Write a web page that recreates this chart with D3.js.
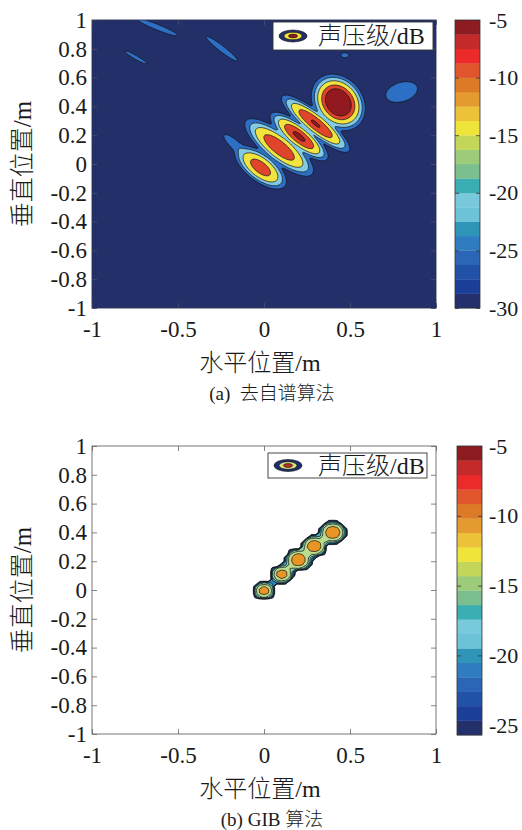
<!DOCTYPE html>
<html lang="zh">
<head>
<meta charset="utf-8">
<script src="https://cdn.jsdelivr.net/npm/d3@7/dist/d3.min.js"></script>
<style>
  html,body{margin:0;padding:0;background:#fff;}
  svg text{font-family:"Liberation Serif","Times New Roman","Noto Sans CJK SC",serif;fill:#1a1a1a;}
</style>
</head>
<body>
<svg id="fig" width="522" height="830" xmlns="http://www.w3.org/2000/svg"></svg>
<script>
// ---- axis ticks ----
const xTicks = [-1, -0.5, 0, 0.5, 1];
const yTicks = [-1, -0.8, -0.6, -0.4, -0.2, 0, 0.2, 0.4, 0.6, 0.8, 1];
const cbTicksA = [-30, -25, -20, -15, -10, -5];
const cbTicksB = [-25, -20, -15, -10, -5];
const cbRangeA = [-30, -5];
const cbRangeB = [-25.7, -5];

// ---- (a) map: main source lobes (position m, peak dB, semi-axes m, tilt deg) ----
const srcX = [-0.02, 0.088, 0.204, 0.30, 0.432];
const srcY = [-0.024, 0.115, 0.191, 0.28, 0.428];
const srcLevel = [-8.3, -7.5, -6.4, -6.65, -3.0];
const srcMajor = [0.082, 0.112, 0.093, 0.112, 0.078];
const srcMinor = [0.038, 0.038, 0.030, 0.029, 0.057];
const srcAngle = [-45, -45, -45, -45, 112];

// ---- (a) map: weak sidelobes ----
const sideX = [-0.17, -0.62, -0.245, -0.745, 0.80, 0.47];
const sideY = [0.135, 0.95, 0.80, 0.74, 0.50, 0.755];
const sideLevel = [-22.5, -23.5, -23.5, -24.3, -22.5, -24.0];
const sideMajor = [0.070, 0.115, 0.108, 0.080, 0.075, 0.022];
const sideMinor = [0.021, 0.016, 0.016, 0.012, 0.050, 0.016];
const sideAngle = [-48, -26, -43, -35, 25, 0];

const lobeSharpness = 1.25;   // >1 gives flatter tops and steeper flanks
const floorA = -30;
const levelsA = [-25, -20, -15, -10, -6.8];
const fillsA = ["#2c6fc4", "#82c9e4", "#f1e43f", "#e0452b", "#92191f"];
const backgroundA = "#232f68";

// ---- (b) GIB map: reconstructed sources and weak bridging terms ----
const gibX = [0.0, 0.105, 0.2, 0.292, 0.4, 0.052, 0.152, 0.35];
const gibY = [-0.005, 0.11, 0.21, 0.305, 0.4, 0.052, 0.16, 0.352];
const gibLevel = [-10.8, -10.7, -10.2, -10.2, -10.0, -22.0, -20.5, -21.0];
const gibWidth = [0.048, 0.050, 0.058, 0.056, 0.058, 0.028, 0.03, 0.028];
const gibCut = -23;     // GIB output is empty below this level
const gibEmpty = -35;
const levelsB = [-25.5, -23.5, -21.5, -19.5, -17.5, -15, -12];
const fillsB = ["#1d2d6c", "#2350a6", "#2c86c4", "#46b3c2", "#93d0a6", "#bcdc8e", "#e99526"];

// ---- colour bar bands, bottom to top ----
const bandColors = ["#23306b", "#1b3f99", "#2152a8", "#2a66b5", "#2f7dc0",
                    "#2f95b8", "#6cc3d8", "#79c9dc", "#3aaeb3", "#7cbf8e",
                    "#9ccb7a", "#c4d65a", "#efe53a", "#ecc23a", "#e49a2e",
                    "#dd7a28", "#e0552b", "#ec2a2a", "#c42a2a", "#8e1b1f"];

const svg = d3.select("#fig");
const fmt = d => String(d);

// lobe field in dB on a regular grid
function lobeGrid(n, h, lobes, floorDb) {
  const vals = new Float64Array(n * n);
  const base = Math.pow(10, floorDb / 10);
  const pre = lobes.map(l => ({
    x: l.x, y: l.y, p: Math.pow(10, l.level / 10),
    c: Math.cos(l.angle * Math.PI / 180), s: Math.sin(l.angle * Math.PI / 180),
    a2: l.major * l.major, b2: l.minor * l.minor
  }));
  for (let j = 0; j < n; j++) {
    const y = 1 - j * h;
    for (let i = 0; i < n; i++) {
      const x = -1 + i * h;
      let p = base;
      for (const l of pre) {
        const dx = x - l.x, dy = y - l.y;
        const u = dx * l.c + dy * l.s, v = -dx * l.s + dy * l.c;
        const q = u * u / l.a2 + v * v / l.b2;
        if (q < 60) p += l.p * Math.exp(-0.5 * Math.pow(q, lobeSharpness));
      }
      vals[j * n + i] = 10 * Math.log10(p);
    }
  }
  return vals;
}

// compact-support field for the GIB output
function gibGrid(n, h) {
  const vals = new Float64Array(n * n);
  for (let j = 0; j < n; j++) {
    const y = 1 - j * h;
    for (let i = 0; i < n; i++) {
      const x = -1 + i * h;
      let p = 0;
      for (let k = 0; k < gibX.length; k++) {
        const r = Math.hypot(x - gibX[k], y - gibY[k]) / gibWidth[k];
        p += Math.pow(10, gibLevel[k] / 10) * Math.exp(-Math.pow(r, 3));
      }
      let v = p > 0 ? 10 * Math.log10(p) : gibEmpty;
      if (v < gibCut) v = gibEmpty;
      vals[j * n + i] = v;
    }
  }
  return vals;
}

function gridPath(h, xs, ys) {
  return d3.geoPath(d3.geoTransform({
    point(px, py) { this.stream.point(xs(-1 + (px - 0.5) * h), ys(1 - (py - 0.5) * h)); }
  }));
}

function drawPanel(cfg) {
  const g = svg.append("g");
  const xs = d3.scaleLinear().domain([-1, 1]).range([cfg.left, cfg.right]);
  const ys = d3.scaleLinear().domain([-1, 1]).range([cfg.bottom, cfg.top]);
  const clipId = "clip-" + cfg.key;
  svg.append("clipPath").attr("id", clipId).append("rect")
    .attr("x", cfg.left).attr("y", cfg.top)
    .attr("width", cfg.right - cfg.left).attr("height", cfg.bottom - cfg.top);

  const plot = g.append("g").attr("clip-path", `url(#${clipId})`);
  plot.append("rect").attr("x", cfg.left).attr("y", cfg.top)
    .attr("width", cfg.right - cfg.left).attr("height", cfg.bottom - cfg.top)
    .attr("fill", cfg.background);

  const fill = d3.scaleThreshold().domain(cfg.levels.slice(1)).range(cfg.fills);
  const contours = d3.contours().size([cfg.n, cfg.n]).thresholds(cfg.levels)(cfg.values);
  const path = gridPath(cfg.h, xs, ys);
  plot.selectAll("path.c").data(contours).join("path")
    .attr("class", "c")
    .attr("d", path)
    .attr("fill", d => fill(d.value))
    .attr("stroke", "#111")
    .attr("stroke-width", 0.7)
    .attr("stroke-linejoin", "round");

  // frame and inward ticks on all four sides
  const tickCol = cfg.tickColor;
  const axB = g.append("g").attr("transform", `translate(0,${cfg.bottom})`)
    .call(d3.axisBottom(xs).tickValues(xTicks).tickFormat(fmt).tickSizeInner(-5).tickSizeOuter(0).tickPadding(13));
  const axT = g.append("g").attr("transform", `translate(0,${cfg.top})`)
    .call(d3.axisTop(xs).tickValues(xTicks).tickFormat("").tickSizeInner(-5).tickSizeOuter(0));
  const axL = g.append("g").attr("transform", `translate(${cfg.left},0)`)
    .call(d3.axisLeft(ys).tickValues(yTicks).tickFormat(fmt).tickSizeInner(-5).tickSizeOuter(0).tickPadding(5));
  const axR = g.append("g").attr("transform", `translate(${cfg.right},0)`)
    .call(d3.axisRight(ys).tickValues(yTicks).tickFormat("").tickSizeInner(-5).tickSizeOuter(0));
  [axB, axT, axL, axR].forEach(a => {
    a.select(".domain").remove();
    a.selectAll("line").attr("stroke", tickCol).attr("stroke-width", 0.8);
    a.selectAll("text").attr("font-size", 23).attr("fill", "#1a1a1a")
      .attr("font-family", "'Liberation Serif', serif");
  });
  g.append("rect").attr("x", cfg.left).attr("y", cfg.top)
    .attr("width", cfg.right - cfg.left).attr("height", cfg.bottom - cfg.top)
    .attr("fill", "none").attr("stroke", cfg.frameColor).attr("stroke-width", 0.9);

  // axis titles and caption
  g.append("text").attr("x", (cfg.left + cfg.right) / 2 - 4).attr("y", cfg.bottom + 63)
    .attr("text-anchor", "middle").attr("font-size", 24).style("font-weight", 300)
    .text("水平位置/m");
  g.append("text")
    .attr("transform", `translate(31,${(cfg.top + cfg.bottom) / 2}) rotate(-90)`)
    .attr("text-anchor", "middle").attr("font-size", 25).style("font-weight", 300)
    .text("垂直位置/m");
  g.append("text").attr("x", 272).attr("y", cfg.bottom + 92)
    .attr("text-anchor", "middle").attr("font-size", 19).style("font-weight", 300)
    .attr("xml:space", "preserve")
    .text(cfg.caption);

  // legend
  const lg = cfg.legend;
  g.append("rect").attr("x", lg.x).attr("y", lg.y).attr("width", lg.w).attr("height", lg.h)
    .attr("fill", "#fff").attr("stroke", "#333").attr("stroke-width", 0.9);
  const cx = lg.x + 20, cy = lg.y + lg.h / 2;
  [[14, 6], [9, 3.8], [4.5, 1.9]].forEach((r, i) => {
    g.append("ellipse").attr("cx", cx).attr("cy", cy).attr("rx", r[0]).attr("ry", r[1])
      .attr("fill", lg.icon[i]).attr("stroke", "#111").attr("stroke-width", 0.6);
  });
  g.append("text").attr("x", 318).attr("y", cy + 8).attr("font-size", 24)
    .style("font-weight", 300).text("声压级/dB");

  // colour bar
  const cb = cfg.cb;
  const cs = d3.scaleLinear().domain(cb.range).range([cb.bottom, cb.top]);
  const step = (cb.range[1] - cb.range[0]) / bandColors.length;
  const bands = bandColors.map((c, i) => ({ lo: cb.range[0] + i * step, hi: cb.range[0] + (i + 1) * step, c }));
  g.selectAll(null).data(bands).join("rect")
    .attr("x", cb.left).attr("width", cb.w)
    .attr("y", d => cs(d.hi)).attr("height", d => cs(d.lo) - cs(d.hi) + 0.3)
    .attr("fill", d => d.c);
  const cbR = g.append("g").attr("transform", `translate(${cb.left + cb.w},0)`)
    .call(d3.axisRight(cs).tickValues(cb.ticks).tickFormat(fmt).tickSizeInner(-4).tickSizeOuter(0).tickPadding(cb.pad));
  const cbL = g.append("g").attr("transform", `translate(${cb.left},0)`)
    .call(d3.axisLeft(cs).tickValues(cb.ticks).tickFormat("").tickSizeInner(-4).tickSizeOuter(0));
  [cbR, cbL].forEach(a => {
    a.select(".domain").remove();
    a.selectAll("line").attr("stroke", "#333").attr("stroke-width", 0.8);
    a.selectAll("text").attr("font-size", 22).attr("fill", "#1a1a1a")
      .attr("font-family", "'Liberation Serif', serif");
  });
  g.append("rect").attr("x", cb.left).attr("y", cb.top).attr("width", cb.w)
    .attr("height", cb.bottom - cb.top).attr("fill", "none")
    .attr("stroke", "#333").attr("stroke-width", 0.8);
}

// ---- build fields ----
const lobesA = srcX.map((x, k) => ({ x, y: srcY[k], level: srcLevel[k], major: srcMajor[k], minor: srcMinor[k], angle: srcAngle[k] }))
  .concat(sideX.map((x, k) => ({ x, y: sideY[k], level: sideLevel[k], major: sideMajor[k], minor: sideMinor[k], angle: sideAngle[k] })));
const nA = 201, hA = 0.01;
const valuesA = lobeGrid(nA, hA, lobesA, floorA);
const nB = 81, hB = 0.025;
const valuesB = gibGrid(nB, hB);

drawPanel({
  key: "a", left: 92, right: 436, top: 20, bottom: 308,
  n: nA, h: hA, values: valuesA, levels: levelsA, fills: fillsA,
  background: backgroundA, tickColor: "#4a5270", frameColor: "#2a3356",
  caption: "(a)  去自谱算法",
  legend: { x: 273, y: 22, w: 160, h: 28, icon: [backgroundA, "#f1e43f", "#92191f"] },
  cb: { left: 455, w: 25, top: 20, bottom: 308, range: cbRangeA, ticks: cbTicksA, pad: 9 }
});

drawPanel({
  key: "b", left: 92, right: 436, top: 446, bottom: 734,
  n: nB, h: hB, values: valuesB, levels: levelsB, fills: fillsB,
  background: "#ffffff", tickColor: "#666", frameColor: "#666",
  caption: "(b) GIB 算法",
  legend: { x: 268, y: 453, w: 159, h: 25, icon: ["#1d2d6c", "#d6e07a", "#b8302a"] },
  cb: { left: 457, w: 25, top: 446, bottom: 735, range: cbRangeB, ticks: cbTicksB, pad: 7 }
});
</script>
</body>
</html>
